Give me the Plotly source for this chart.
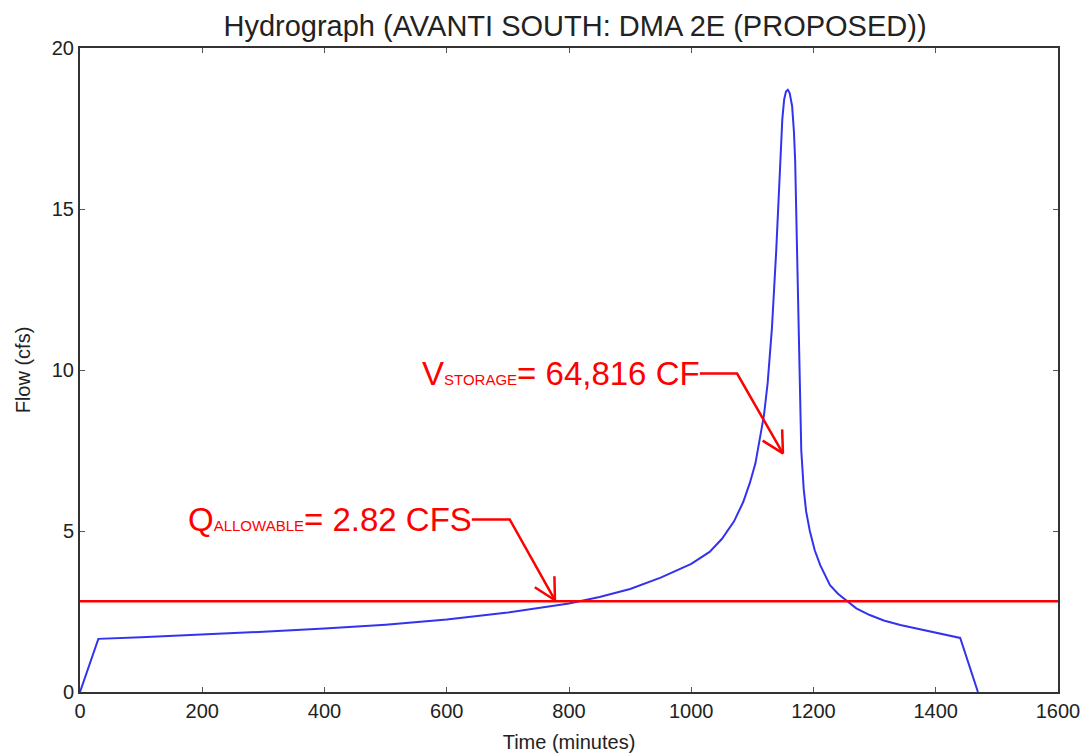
import numpy as np
import plotly.graph_objects as go

# Hydrograph data (minutes, cfs)
time_min = [0, 30, 100, 200, 300, 400, 500, 600, 700, 800, 850, 900, 950, 1000,
            1030, 1050, 1070, 1085, 1096, 1105, 1112, 1119, 1125, 1132, 1139, 1145,
            1149, 1152, 1155, 1158, 1161, 1165, 1168, 1170, 1173, 1176, 1180, 1184,
            1188, 1194, 1202, 1211, 1220, 1227, 1240, 1252, 1270, 1292, 1315, 1342,
            1370, 1400, 1440, 1469]
flow_cfs = [0, 1.65, 1.70, 1.78, 1.87, 1.97, 2.09, 2.25, 2.47, 2.75, 2.95, 3.2,
            3.55, 3.98, 4.35, 4.75, 5.3, 5.9, 6.5, 7.1, 7.8, 8.6, 9.6, 11.3, 13.7,
            16.5, 17.8, 18.4, 18.65, 18.7, 18.6, 18.2, 17.4, 16.5, 13.7, 10.6, 7.5,
            6.3, 5.6, 5.0, 4.4, 3.94, 3.6, 3.32, 3.05, 2.86, 2.6, 2.39, 2.22, 2.08,
            1.96, 1.85, 1.68, 0]

q_allowable = 2.82
x_range = [0, 1600]
y_range = [0, 20]
x_ticks = [0, 200, 400, 600, 800, 1000, 1200, 1400, 1600]
y_ticks = [0, 5, 10, 15, 20]

# Callout polylines (start, corner, tip) in data units
v_callout_t = [1014, 1075, 1150]
v_callout_q = [9.89, 9.89, 7.41]
q_callout_t = [641, 703, 777]
q_callout_q = [5.36, 5.36, 2.85]

# the page body adds an 8px offset, so the figure is 8px smaller than the window
W, H = 1080, 748
ml, mr, mt, mb = 72, 30, 40, 64
px_x = (W - ml - mr) / (x_range[1] - x_range[0])
px_y = (H - mt - mb) / (y_range[1] - y_range[0])

RED = "#ff0000"
fig = go.Figure()
fig.add_trace(go.Scatter(x=time_min, y=flow_cfs, mode="lines",
                         line=dict(color="#3333ee", width=2), showlegend=False))
fig.add_trace(go.Scatter(x=x_range, y=[q_allowable, q_allowable], mode="lines",
                         line=dict(color=RED, width=2.5), showlegend=False))


def arrow_head(ts, qs, length=24, ang=28):
    dx = (ts[-2] - ts[-1]) * px_x
    dy = (qs[-2] - qs[-1]) * px_y
    n = np.hypot(dx, dy)
    dx, dy = dx / n, dy / n
    pts = []
    for s in (1, -1):
        a = np.radians(ang * s)
        rx = dx * np.cos(a) - dy * np.sin(a)
        ry = dx * np.sin(a) + dy * np.cos(a)
        pts.append((ts[-1] + rx * length / px_x, qs[-1] + ry * length / px_y))
    return pts


for ts, qs in ((v_callout_t, v_callout_q), (q_callout_t, q_callout_q)):
    fig.add_trace(go.Scatter(x=ts, y=qs, mode="lines", line=dict(color=RED, width=2.5),
                             showlegend=False, hoverinfo="skip"))
    (x1, y1), (x2, y2) = arrow_head(ts, qs)
    fig.add_trace(go.Scatter(x=[x1, ts[-1], x2], y=[y1, qs[-1], y2], mode="lines",
                             line=dict(color=RED, width=2.5), showlegend=False,
                             hoverinfo="skip"))

fig.add_annotation(x=v_callout_t[0], y=v_callout_q[0], xanchor="right", yanchor="middle",
                   showarrow=False, xshift=2,
                   text="V<span style='font-size:15px'>STORAGE</span>= 64,816 CF",
                   font=dict(family="Liberation Sans, Arial", size=33, color=RED))
fig.add_annotation(x=q_callout_t[0], y=q_callout_q[0], xanchor="right", yanchor="middle",
                   showarrow=False, xshift=2,
                   text="Q<span style='font-size:15px'>ALLOWABLE</span>= 2.82 CFS",
                   font=dict(family="Liberation Sans, Arial", size=33, color=RED))

axis_common = dict(showgrid=False, zeroline=False, showline=True, linecolor="#333333",
                   linewidth=2, mirror="ticks", ticks="inside", ticklen=5,
                   tickcolor="#555555", tickfont=dict(size=20, color="#222222"),
                   automargin=False)
fig.update_xaxes(range=x_range, tickvals=x_ticks, title=dict(text="Time (minutes)",
                 font=dict(size=20, color="#222222"), standoff=14), **axis_common)
fig.update_yaxes(range=y_range, tickvals=y_ticks, title=dict(text="Flow (cfs)",
                 font=dict(size=20, color="#222222"), standoff=16), **axis_common)

fig.update_layout(
    width=W, height=H,
    margin=dict(l=ml, r=mr, t=mt, b=mb, autoexpand=False),
    paper_bgcolor="white", plot_bgcolor="white",
    font=dict(family="Liberation Sans, Arial"),
    title=dict(text="Hydrograph (AVANTI SOUTH: DMA 2E (PROPOSED))", x=0.525, xanchor="center",
               yref="container", y=1 - 18 / H, yanchor="middle",
               font=dict(size=29, color="#222222"), automargin=False),
)
fig.write_html("out.html")
